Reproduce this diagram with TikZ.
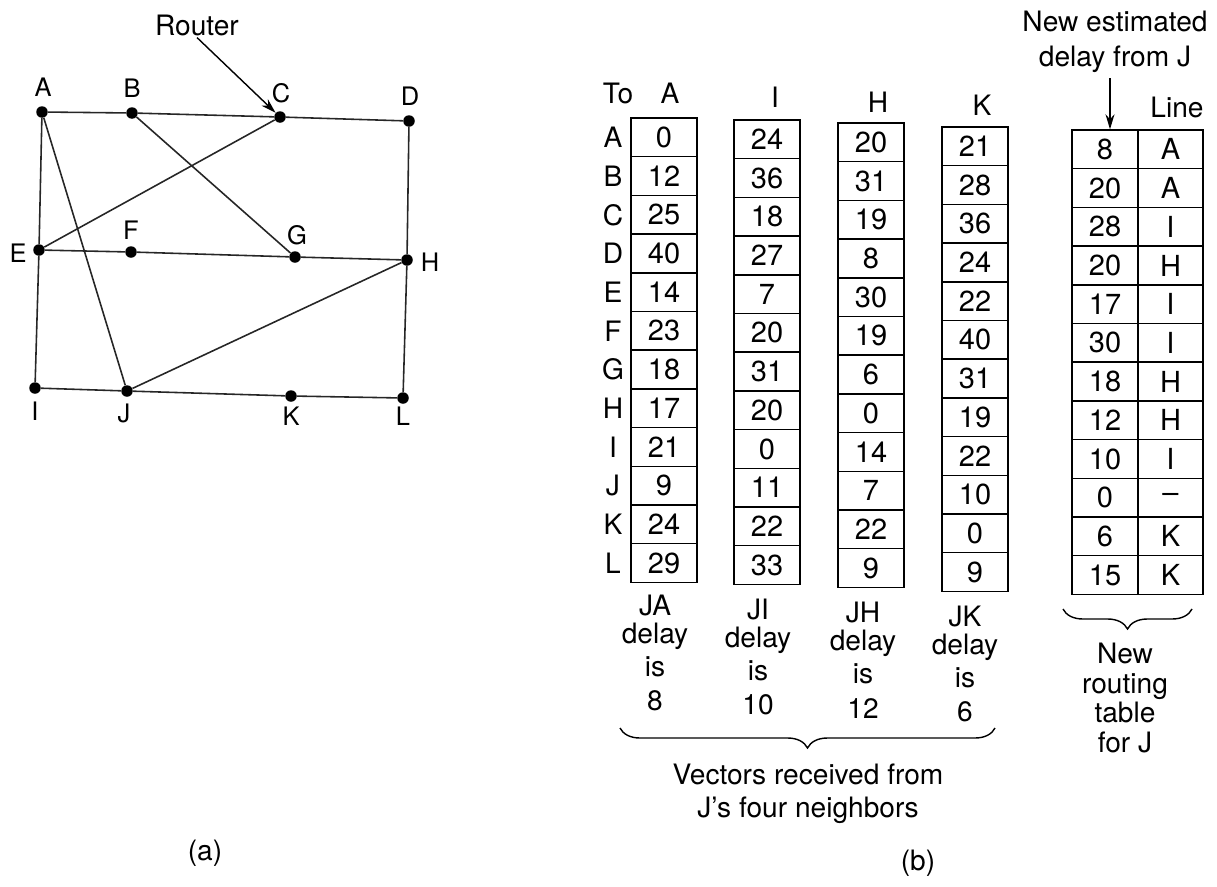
\documentclass[tikz,border=0pt]{standalone}
\usepackage{fontspec}
\setmainfont{TeX Gyre Heros}
\usetikzlibrary{arrows.meta,decorations.pathreplacing}
\begin{document}
\begin{tikzpicture}[x=0.02cm,y=-0.02cm,
  dot/.style={circle,fill=black,inner sep=0pt,minimum size=0.23cm},
  glabel/.style={font=\fontsize{14.5}{16}\selectfont,inner sep=1pt},
  edge/.style={line width=0.9pt,black!85},
  cell/.style={draw,line width=0.8pt,minimum width=1.32cm,minimum height=0.774cm,inner sep=0pt,font=\fontsize{16.5}{18}\selectfont},
  hdr/.style={font=\fontsize{16}{18}\selectfont,inner sep=1pt},
  txt/.style={font=\fontsize{16}{18.8}\selectfont,align=center,inner sep=1pt},
  arr/.style={line width=0.8pt,-{Stealth[length=0.3cm,width=0.18cm]}},
  brc/.style={line width=0.8pt,decorate,decoration={brace,mirror,amplitude=0.4cm}}]
\useasboundingbox (0,0) rectangle (1217,886);
% ---------- (a) graph ----------
\node[dot] (A) at (42,112) {};
\node[dot] (B) at (132,113) {};
\node[dot] (C) at (280,117) {};
\node[dot] (D) at (409,121) {};
\node[dot] (E) at (39,250) {};
\node[dot] (F) at (131,252) {};
\node[dot] (G) at (295,257) {};
\node[dot] (H) at (407,260) {};
\node[dot] (I) at (35,388) {};
\node[dot] (J) at (127,391) {};
\node[dot] (K) at (291,396) {};
\node[dot] (L) at (403,398) {};
\foreach \a/\b in {A/B,B/C,C/D,A/E,A/J,B/G,C/E,E/F,F/G,G/H,D/H,E/I,H/J,H/L,I/J,J/K,K/L}
  \draw[edge] (\a) -- (\b);
\node[glabel] (lA) at (43,87) {A};
\node[glabel] (lB) at (132,88) {B};
\node[glabel] (lC) at (281,93) {C};
\node[glabel] (lD) at (410,96) {D};
\node[glabel] (lE) at (18,253) {E};
\node[glabel] (lF) at (131,230) {F};
\node[glabel] (lG) at (297,235) {G};
\node[glabel] (lH) at (430,262) {H};
\node[glabel] (lI) at (35,411) {I};
\node[glabel] (lJ) at (124,413) {J};
\node[glabel] (lK) at (291,416) {K};
\node[glabel] (lL) at (403,416) {L};
\node[hdr] (router) at (197,25) {Router};
\draw[arr] (router.south) -- (C);
\node[hdr] (capa) at (205,853) {(a)};
% ---------- (b) tables ----------
\node[hdr] (to) at (618,93) {To};
\node[hdr] (hA) at (670,93) {A};
\node[hdr] (hI) at (775,97) {I};
\node[hdr] (hH) at (878,102) {H};
\node[hdr] (hK) at (982,105) {K};
\node[hdr] (hLine) at (1177,107) {Line};
\foreach \r [count=\i from 0] in {A,B,C,D,E,F,G,H,I,J,K,L}
  \node[hdr] (row\r) at (613,{137.35+38.7*\i}) {\r};
\foreach \v [count=\i from 0] in {0,12,25,40,14,23,18,17,21,9,24,29}
  \node[cell] (cA\i) at (664,{118+19.35+38.7*\i}) {\v};
\foreach \v [count=\i from 0] in {24,36,18,27,7,20,31,20,0,11,22,33}
  \node[cell] (cI\i) at (767,{120+19.35+38.7*\i}) {\v};
\foreach \v [count=\i from 0] in {20,31,19,8,30,19,6,0,14,7,22,9}
  \node[cell] (cH\i) at (871,{123+19.35+38.7*\i}) {\v};
\foreach \v [count=\i from 0] in {21,28,36,24,22,40,31,19,22,10,0,9}
  \node[cell] (cK\i) at (975,{127+19.35+38.7*\i}) {\v};
\foreach \v/\w [count=\i from 0] in {8/A,20/A,28/I,20/H,17/I,30/I,18/H,12/H,10/I,0/–,6/K,15/K}{
  \node[cell] (nd\i) at (1105,{130+19.35+38.7*\i}) {\v};
  \node[cell,minimum width=1.3cm] (nl\i) at (1170.5,{130+19.35+38.7*\i}) {\w};
}
\node[txt,font=\fontsize{16}{20}\selectfont] (newest) at (1115,42) {New estimated\\delay from J};
\coordinate (arrtop) at (1110,78);
\draw[arr] (arrtop) -- (nd0.north -| arrtop);
\node[txt] (dA) at (655,653) {JA\\[-3pt]delay\\is\\[1pt]8};
\node[txt] (dI) at (758,657) {JI\\[-3pt]delay\\is\\[1pt]10};
\node[txt] (dH) at (863,660) {JH\\[-3pt]delay\\is\\[1pt]12};
\node[txt] (dK) at (965,664) {JK\\[-3pt]delay\\is\\[1pt]6};
\coordinate (b1l) at (620,728);
\coordinate (b1r) at (995,728);
\draw[brc] (b1l) -- (b1r);
\node[txt] (vec) at (808,794) {Vectors received from\\J's four neighbors};
\coordinate (b2l) at (1063,609);
\coordinate (b2r) at (1192,609);
\draw[brc] (b2l) -- (b2r);
\node[txt,font=\fontsize{16}{17}\selectfont] (newrt) at (1125,698) {New\\routing\\table\\for J};
\node[hdr] (capb) at (918,863) {(b)};
\end{tikzpicture}
\end{document}
